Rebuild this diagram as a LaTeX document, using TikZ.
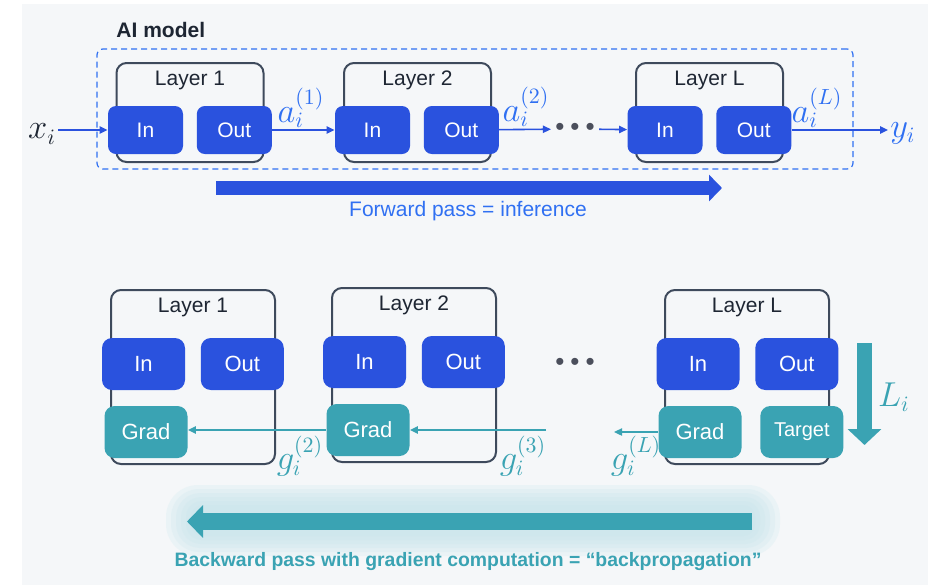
\documentclass[tikz,border=0pt]{standalone}
\usepackage{fontspec}
\setmainfont{Liberation Sans}
\definecolor{panelbg}{HTML}{F5F7F9}
\definecolor{boxblue}{HTML}{2A52DE}
\definecolor{fwdblue}{HTML}{3070F2}
\definecolor{gradteal}{HTML}{3AA3B3}
\definecolor{glowteal}{HTML}{C6E5EC}
\definecolor{layerline}{HTML}{3E4A5C}
\definecolor{textdark}{HTML}{1E2633}
\definecolor{dotgray}{HTML}{4B4F5C}
\usepackage{xcolor}
\usepackage{tikz}
\usetikzlibrary{positioning}
\usetikzlibrary{arrows.meta}

\begin{document}
\begin{tikzpicture}[x=0.5pt, y=-0.5pt, text=textdark,
    layerf/.style = {draw=layerline, line width=1pt, rounded corners=5pt, minimum width=73.5pt, minimum height=49.5pt},
    layerb/.style = {draw=layerline, line width=1pt, rounded corners=5pt, minimum width=82pt, minimum height=87pt},
    ltitle/.style = {font=\fontsize{10.5}{12}\selectfont, inner sep=0pt},
    inf/.style = {fill=boxblue, text=white, rounded corners=4pt, minimum width=37.5pt, minimum height=24pt, font=\fontsize{10.5}{12}\selectfont},
    inb/.style = {fill=boxblue, text=white, rounded corners=5pt, minimum width=41.5pt, minimum height=26pt, font=\fontsize{11}{13}\selectfont},
    gradb/.style = {inb, fill=gradteal},
    dotsn/.style = {text=dotgray, font=\fontsize{13}{15}\selectfont, inner xsep=2pt, inner ysep=0pt},
    mlbl/.style = {font=\fontsize{16}{18}\selectfont, inner sep=1pt},
    glow/.style = {fill=glowteal, opacity=0.22},
    conf/.style = {draw=boxblue, line width=0.8pt, -{Triangle[length=4pt, width=3.6pt]}},
    conb/.style = {draw=gradteal, line width=0.8pt, -{Triangle[length=4pt, width=3.6pt]}},
    modelbox/.style = {draw=fwdblue, line width=0.6pt, dash pattern=on 3pt off 2pt, rounded corners=3pt, minimum width=378pt, minimum height=60pt}]

\useasboundingbox (0,0) rectangle (928,585);
\fill[white] (0,0) rectangle (928,585);
\fill[panelbg] (22,4) rectangle (928,585);

\node[modelbox] (model) at (475,109) {};
\node[anchor=south west, font=\bfseries\fontsize{10.5}{12}\selectfont, xshift=6.5pt, yshift=2pt] (modelt) at (model.north west) {AI model};

\node[layerf] (f1) at (190,112.5) {};
\node[ltitle, anchor=base] (f1t) at ([yshift=-11.5pt]f1.north) {Layer 1};
\node[inf] (f1in) at (145.5,130) {In};
\node[inf, right=6.5pt of f1in] (f1out) {Out};

\node[layerf] (f2) at (417.5,112.5) {};
\node[ltitle, anchor=base] (f2t) at ([yshift=-11.5pt]f2.north) {Layer 2};
\node[inf] (f2in) at (372.5,130) {In};
\node[inf, right=6.5pt of f2in] (f2out) {Out};

\node[dotsn] (dotsf) at (575,129) {\textbullet\hspace{3pt}\textbullet\hspace{3pt}\textbullet};

\node[layerf] (fL) at (709.5,112.5) {};
\node[ltitle, anchor=base] (fLt) at ([yshift=-11.5pt]fL.north) {Layer L};
\node[inf] (fLin) at (665,130) {In};
\node[inf, right=6.5pt of fLin] (fLout) {Out};

\node[mlbl] (xi) at (42,134) {$x_i$};
\node[mlbl, text=fwdblue] (yi) at (903,133) {$y_i$};
\node[mlbl, text=fwdblue] (a1) at (301,108) {$a_i^{(1)}$};
\node[mlbl, text=fwdblue] (a2) at (526,107) {$a_i^{(2)}$};
\node[mlbl, text=fwdblue] (aL) at (817,108) {$a_i^{(L)}$};

\draw[conf] (xi.east |- f1in.west) -- (f1in.west);
\draw[conf] (f1out) -- (f2in);
\draw[conf] (f2out) -- (dotsf);
\draw[conf] (dotsf) -- (fLin);
\draw[conf] (fLout.east) -- (yi.west |- fLout.east);

\coordinate (fwds) at (216,188);
\coordinate (fwde) at (722,188);
\draw[draw=boxblue, line width=7pt, -{Triangle[length=6.5pt, width=13pt]}] (fwds) -- (fwde);
\node[text=fwdblue, font=\fontsize{10.5}{12}\selectfont] (fwdt) at (468,211) {Forward pass = inference};

\node[layerb] (b1) at (193,377) {};
\node[ltitle, anchor=base] (b1t) at ([yshift=-11.5pt]b1.north) {Layer 1};
\node[inb] (b1in) at (143.5,364) {In};
\node[inb, right=7.5pt of b1in] (b1out) {Out};
\node[gradb] (b1g) at (146,432) {Grad};

\node[layerb] (b2) at (414,375) {};
\node[ltitle, anchor=base] (b2t) at ([yshift=-11.5pt]b2.north) {Layer 2};
\node[inb] (b2in) at (364.5,362) {In};
\node[inb, right=7.5pt of b2in] (b2out) {Out};
\node[gradb] (b2g) at (368,430) {Grad};

\node[dotsn] (dotsb) at (575,364) {\textbullet\hspace{3pt}\textbullet\hspace{3pt}\textbullet};

\node[layerb] (bL) at (747,377) {};
\node[ltitle, anchor=base] (bLt) at ([yshift=-11.5pt]bL.north) {Layer L};
\node[inb] (bLin) at (698,364) {In};
\node[inb, right=7.5pt of bLin] (bLout) {Out};
\node[gradb] (bLg) at (700,432) {Grad};
\node[gradb, font=\fontsize{10}{12}\selectfont, right=9pt of bLg] (bLtg) {Target};

\coordinate (g3s) at (546,430);
\coordinate (gLe) at (614,432);
\draw[conb] (g3s) -- (b2g.east);
\draw[conb] (b2g.west) -- (b1g.east |- b2g.west);
\draw[conb] (bLg.west) -- (gLe);

\node[mlbl, text=gradteal] (g2) at (300,456) {$g_i^{(2)}$};
\node[mlbl, text=gradteal] (g3) at (523,456) {$g_i^{(3)}$};
\node[mlbl, text=gradteal] (gL) at (636,456) {$g_i^{(L)}$};

\coordinate (lis) at (864.5,343);
\coordinate (lie) at (864.5,445);
\draw[draw=gradteal, line width=7.5pt, -{Triangle[length=8pt, width=16.5pt]}] (lis) -- (lie);
\node[mlbl, text=gradteal] (li) at (894,397) {$L_i$};

\fill[glow, rounded corners=16pt] (166,485) rectangle (780,556);
\fill[glow, rounded corners=14pt] (171,489) rectangle (775,552);
\fill[glow, rounded corners=12pt] (176,493) rectangle (770,548);
\fill[glow, rounded corners=10pt] (181,497) rectangle (765,544);
\fill[glow, rounded corners=8pt] (186,501) rectangle (760,540);
\fill[glow, rounded corners=6pt] (191,505) rectangle (755,536);
\coordinate (bwds) at (752,521.5);
\coordinate (bwde) at (187,521.5);
\draw[draw=gradteal, line width=8.5pt, -{Triangle[length=8pt, width=16pt]}] (bwds) -- (bwde);
\node[text=gradteal, font=\bfseries\fontsize{9.7}{12}\selectfont] (bwdt) at (468,562) {Backward pass with gradient computation = “backpropagation”};

\end{tikzpicture}
\end{document}
